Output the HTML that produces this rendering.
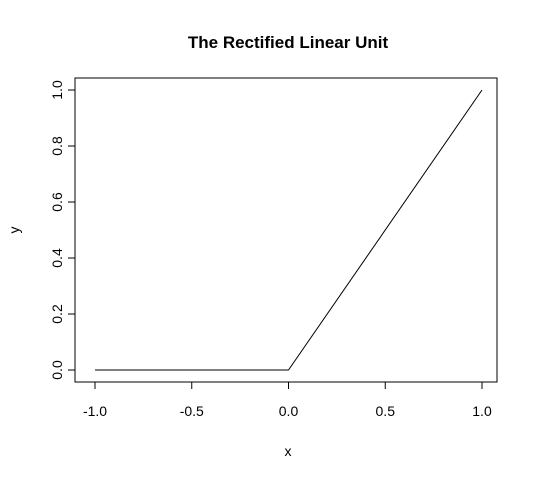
<!DOCTYPE html>
<html><head><meta charset="utf-8"><style>body{margin:0;background:#fff}svg{display:block}text{font-family:"Liberation Sans",Arial,sans-serif;fill:#000}</style></head>
<body>
<svg width="538" height="480">
<rect x="75" y="78" width="422" height="304" fill="none" stroke="#000"/>
<text x="288" y="48" text-anchor="middle" font-size="17" font-weight="bold">The Rectified Linear Unit</text>
<text x="288" y="456" text-anchor="middle" font-size="14">x</text>
<text x="19" y="230" text-anchor="middle" font-size="14" transform="rotate(-90 19 230)">y</text>
<g id="axes"></g>
<path id="line" fill="none" stroke="#000" stroke-width="1"/>
</svg>
<script>
const xs=[-1,0,1];
const ys=[0,0,1];
const xTicks=[-1,-0.5,0,0.5,1];
const xTickLabels=["-1.0","-0.5","0.0","0.5","1.0"];
const yTicks=[0,0.2,0.4,0.6,0.8,1];
const yTickLabels=["0.0","0.2","0.4","0.6","0.8","1.0"];
const sx=v=>95+(v+1)/2*387, sy=v=>370-v*280;
const ns="http://www.w3.org/2000/svg", g=document.getElementById('axes');
function mk(t,a){const e=document.createElementNS(ns,t);for(const k in a)e.setAttribute(k,a[k]);g.appendChild(e);return e;}
let l=mk('line',{x1:sx(xTicks[0]),x2:sx(xTicks[xTicks.length-1]),y1:382,y2:382,stroke:'#000'});


xTicks.forEach((v,i)=>{const t=mk('line',{x1:sx(v),x2:sx(v),y1:382,y2:389,stroke:'#000'});


const tx=mk('text',{x:sx(v),y:416,'text-anchor':'middle','font-size':14});tx.textContent=xTickLabels[i];

});
l=mk('line',{x1:75,x2:75,y1:sy(yTicks[0]),y2:sy(yTicks[yTicks.length-1]),stroke:'#000'});


yTicks.forEach((v,i)=>{const t=mk('line',{x1:68,x2:75,y1:sy(v),y2:sy(v),stroke:'#000'});


const tx=mk('text',{x:62,y:sy(v),'text-anchor':'middle','font-size':14,transform:`rotate(-90 62 ${sy(v)})`});tx.textContent=yTickLabels[i];

});
document.getElementById('line').setAttribute('d',xs.map((x,i)=>(i?'L':'M')+sx(x)+' '+sy(ys[i])).join(' '));
</script>
</body></html>
